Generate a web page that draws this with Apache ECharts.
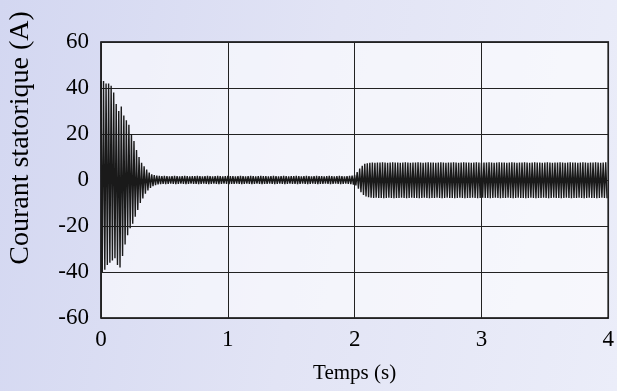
<!DOCTYPE html>
<html>
<head>
<meta charset="utf-8">
<script src="https://cdn.jsdelivr.net/npm/echarts@6/dist/echarts.min.js"></script>
<style>
html,body{margin:0;padding:0;}
body{width:617px;height:391px;background:linear-gradient(100deg,#d3d7f1 0%,#e2e4f5 50%,#ebedf9 100%);}
#chart{width:617px;height:391px;}
</style>
</head>
<body>
<div id="chart"></div>
<script>
// Sampling of the plotted peaks: one positive peak and one negative peak per 50 Hz cycle
var cycleStep = 0.02; // s
var xTicks = [0, 1, 2, 3, 4];
var yTicks = [-60, -40, -20, 0, 20, 40, 60];

// positive peaks (A), one per cycle
var peakHigh = [
  43,43,42,42,41,38,33,30,32,28,
  26,24,20,17,13,10,7.5,6,4.5,3.2,
  2.5,2.1,1.9,1.8,1.7,1.8,1.7,1.6,1.7,1.8,
  1.7,1.6,1.7,1.8,1.7,1.6,1.7,1.7,1.8,1.7,
  1.6,1.7,1.8,1.7,1.6,1.7,1.8,1.7,1.6,1.7,
  1.8,1.7,1.7,1.6,1.7,1.8,1.7,1.6,1.7,1.8,
  1.7,1.6,1.7,1.8,1.7,1.7,1.6,1.7,1.8,1.7,
  1.6,1.7,1.8,1.7,1.6,1.7,1.7,1.8,1.7,1.6,
  1.7,1.8,1.7,1.6,1.7,1.8,1.7,1.7,1.6,1.7,
  1.8,1.7,1.6,1.7,1.8,1.7,1.6,1.7,1.8,1.9,
  2.2,3.5,5,6.2,7,7.3,7.5,7.6,7.5,7.6,
  7.6,7.7,7.6,7.5,7.6,7.7,7.6,7.6,7.5,7.6,
  7.7,7.6,7.5,7.6,7.6,7.7,7.6,7.5,7.6,7.7,
  7.6,7.6,7.5,7.6,7.7,7.6,7.5,7.6,7.6,7.7,
  7.6,7.5,7.6,7.7,7.6,7.6,7.5,7.6,7.7,7.6,
  7.5,7.6,7.6,7.7,7.6,7.5,7.6,7.7,7.6,7.6,
  7.5,7.6,7.7,7.6,7.5,7.6,7.6,7.7,7.6,7.5,
  7.6,7.7,7.6,7.6,7.5,7.6,7.7,7.6,7.5,7.6,
  7.6,7.7,7.6,7.5,7.6,7.7,7.6,7.6,7.5,7.6,
  7.7,7.6,7.5,7.6,7.6,7.7,7.6,7.5,7.6,7.7
];
// negative peaks (A), half a cycle after each positive peak
var peakLow = [
  -40,-39,-37,-36,-35,-34,-37,-38,-33,-28,
  -24,-21,-19,-16,-13,-10,-8,-6,-4.5,-3.5,
  -2.7,-2.2,-1.9,-1.8,-1.7,-1.8,-1.7,-1.6,-1.7,-1.8,
  -1.7,-1.6,-1.7,-1.8,-1.7,-1.6,-1.7,-1.7,-1.8,-1.7,
  -1.6,-1.7,-1.8,-1.7,-1.6,-1.7,-1.8,-1.7,-1.6,-1.7,
  -1.8,-1.7,-1.7,-1.6,-1.7,-1.8,-1.7,-1.6,-1.7,-1.8,
  -1.7,-1.6,-1.7,-1.8,-1.7,-1.7,-1.6,-1.7,-1.8,-1.7,
  -1.6,-1.7,-1.8,-1.7,-1.6,-1.7,-1.7,-1.8,-1.7,-1.6,
  -1.7,-1.8,-1.7,-1.6,-1.7,-1.8,-1.7,-1.7,-1.6,-1.7,
  -1.8,-1.7,-1.6,-1.7,-1.8,-1.7,-1.6,-1.7,-1.8,-2.0,
  -2.4,-3.8,-5.3,-6.5,-7.2,-7.5,-7.7,-7.8,-7.7,-7.8,
  -7.8,-7.9,-7.8,-7.7,-7.8,-7.9,-7.8,-7.8,-7.7,-7.8,
  -7.9,-7.8,-7.7,-7.8,-7.8,-7.9,-7.8,-7.7,-7.8,-7.9,
  -7.8,-7.8,-7.7,-7.8,-7.9,-7.8,-7.7,-7.8,-7.8,-7.9,
  -7.8,-7.7,-7.8,-7.9,-7.8,-7.8,-7.7,-7.8,-7.9,-7.8,
  -7.7,-7.8,-7.8,-7.9,-7.8,-7.7,-7.8,-7.9,-7.8,-7.8,
  -7.7,-7.8,-7.9,-7.8,-7.7,-7.8,-7.8,-7.9,-7.8,-7.7,
  -7.8,-7.9,-7.8,-7.8,-7.7,-7.8,-7.9,-7.8,-7.7,-7.8,
  -7.8,-7.9,-7.8,-7.7,-7.8,-7.9,-7.8,-7.8,-7.7,-7.8,
  -7.9,-7.8,-7.7,-7.8,-7.8,-7.9,-7.8,-7.7,-7.8,-7.9
];

var seriesData = [];
for (var k = 0; k < peakHigh.length; k++) {
  var t = +(k * cycleStep).toFixed(4);
  seriesData.push([t, peakHigh[k]]);
  seriesData.push([+(t + cycleStep / 2).toFixed(4), peakLow[k]]);
}

var FONT = 'Liberation Serif';
var chart = echarts.init(document.getElementById('chart'), null, {renderer: 'canvas'});
chart.setOption({
  animation: false,
  backgroundColor: 'transparent',
  grid: {
    left: 101, right: 8, top: 42, bottom: 73,
    show: true,
    backgroundColor: 'rgba(255,255,255,0.6)',
    borderColor: '#000', borderWidth: 1.6
  },
  xAxis: {
    type: 'value', min: xTicks[0], max: xTicks[xTicks.length - 1], interval: 1,
    axisLine: {show: false},
    axisTick: {show: false},
    splitLine: {show: true, lineStyle: {color: '#222', width: 1}},
    axisLabel: {fontFamily: FONT, fontSize: 23, color: '#000', margin: 10},
    name: 'Temps (s)', nameLocation: 'middle', nameGap: 45,
    nameTextStyle: {fontFamily: FONT, fontSize: 21, color: '#000'}
  },
  yAxis: {
    type: 'value', min: yTicks[0], max: yTicks[yTicks.length - 1], interval: 20,
    axisLine: {show: false},
    axisTick: {show: false},
    splitLine: {show: true, lineStyle: {color: '#222', width: 1}},
    axisLabel: {fontFamily: FONT, fontSize: 23, color: '#000', margin: 12}
  },
  graphic: [{
    type: 'text', x: 21, y: 138, rotation: Math.PI / 2,
    style: {text: 'Courant statorique (A)', fontFamily: FONT, fontSize: 28, fill: '#000',
      textAlign: 'center', textVerticalAlign: 'middle'}
  }],
  series: [{
    type: 'line', data: seriesData, showSymbol: false, sampling: null,
    lineStyle: {color: '#1a1a1a', width: 1.4}, z: 3
  }]
});
</script>
</body>
</html>
